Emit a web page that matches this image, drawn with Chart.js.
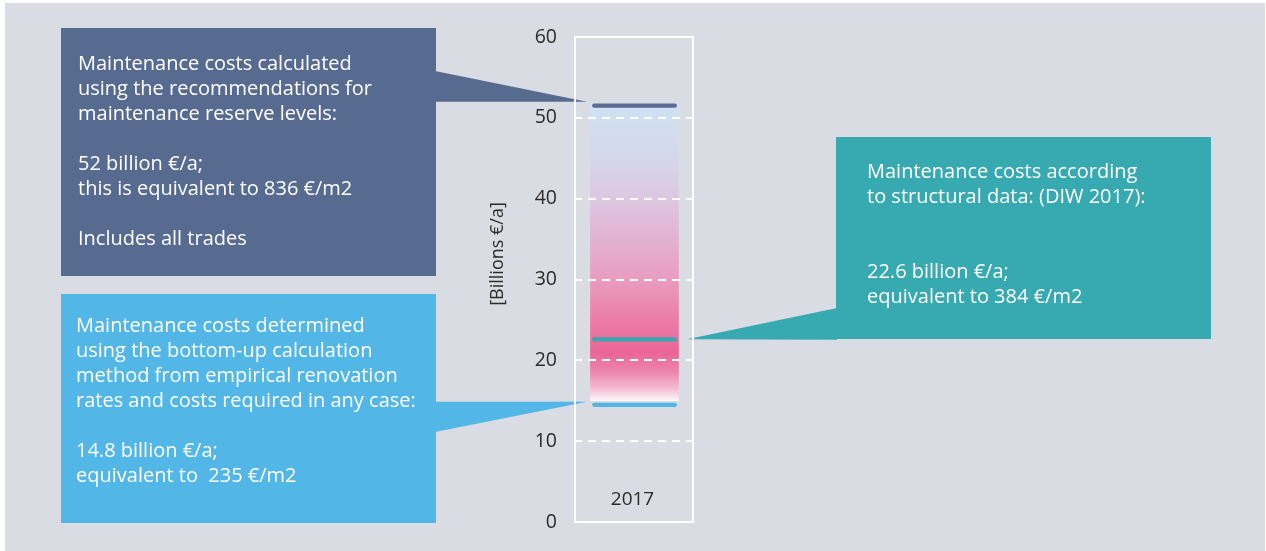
<!DOCTYPE html>
<html>
<head>
<meta charset="utf-8">
<script src="https://cdn.jsdelivr.net/npm/chart.js@4.4.1/dist/chart.umd.min.js"></script>
<style>
  html, body { margin: 0; padding: 0; background: #ffffff; }
  #wrap { width: 1266px; height: 551px; position: relative; }
  canvas { display: block; }
</style>
</head>
<body>
<div id="wrap"><canvas id="c" width="1266" height="551"></canvas></div>
<script>
// ---- data ----
const categories = ['2017'];
const rangeLow = [15.0];
const rangeHigh = [51.7];
const recommendationValue = [51.5];
const structuralValue = [22.6];
const bottomUpValue = [14.5];
const yTicks = [0, 10, 20, 30, 40, 50, 60];
const yAxisTitle = '[Billions €/a]';

const recommendationText = [
  'Maintenance costs calculated',
  'using the recommendations for',
  'maintenance reserve levels:',
  '',
  '52 billion €/a;',
  'this is equivalent to 836 €/m2',
  '',
  'Includes all trades'
];
const bottomUpText = [
  'Maintenance costs determined',
  'using the bottom-up calculation',
  'method from empirical renovation',
  'rates and costs required in any case:',
  '',
  '14.8 billion €/a;',
  'equivalent to  235 €/m2'
];
const structuralText = [
  'Maintenance costs according',
  'to structural data: (DIW 2017):',
  '',
  '',
  '22.6 billion €/a;',
  'equivalent to 384 €/m2'
];

// ---- styles ----
const FONT = "'Open Sans', 'DejaVu Sans', sans-serif";
const C_DARK = '#576b91';
const C_LIGHT = '#52b6e7';
const C_TEAL = '#37a9b0';
const MARK_HALF = 0.22;

function rangeGradient(context) {
  const chart = context.chart;
  const area = chart.chartArea;
  if (!area) return '#ec6a9a';
  const y = chart.scales.y;
  const top = y.getPixelForValue(rangeHigh[0]);
  const bot = y.getPixelForValue(rangeLow[0]);
  const g = chart.ctx.createLinearGradient(0, top, 0, bot);
  const stops = [
    [51.7, '#cde2f3'], [45, '#d6d7ea'], [40, '#dcc7e0'], [35, '#e3b2d2'],
    [30, '#e99cc0'], [25, '#ec7ca8'], [21, '#ea6597'], [18.5, '#ec86ae'],
    [16.5, '#f3bdd2'], [15, '#fdf6f9']
  ];
  stops.forEach(([v, c]) => {
    const p = (y.getPixelForValue(v) - top) / (bot - top);
    g.addColorStop(Math.min(1, Math.max(0, p)), c);
  });
  return g;
}

const decorPlugin = {
  id: 'decor',
  beforeDraw(chart) {
    const ctx = chart.ctx;
    ctx.save();
    ctx.fillStyle = '#ffffff';
    ctx.fillRect(0, 0, chart.width, chart.height);
    ctx.fillStyle = '#d9dce3';
    ctx.fillRect(5, 3, chart.width - 6, chart.height - 3);
    ctx.restore();
  },
  beforeDatasetsDraw(chart) {
    const ctx = chart.ctx;
    const y = chart.scales.y;
    const a = chart.chartArea;
    ctx.save();
    // callouts
    function box(x0, y0, x1, y1, color, lines, tx, ty0) {
      ctx.fillStyle = color;
      ctx.fillRect(x0, y0, x1 - x0, y1 - y0);
      ctx.fillStyle = '#ffffff';
      ctx.font = '20px ' + FONT;
      ctx.textBaseline = 'middle';
      ctx.textAlign = 'left';
      lines.forEach((t, i) => { if (t) ctx.fillText(t, tx, ty0 + i * 25); });
    }
    function tri(pts, color) {
      ctx.fillStyle = color;
      ctx.beginPath();
      ctx.moveTo(pts[0][0], pts[0][1]);
      for (let i = 1; i < pts.length; i++) ctx.lineTo(pts[i][0], pts[i][1]);
      ctx.closePath();
      ctx.fill();
    }
    const tipDark = y.getPixelForValue(recommendationValue[0]) - 4;
    const tipTeal = y.getPixelForValue(structuralValue[0]);
    const tipLight = y.getPixelForValue(bottomUpValue[0]) - 3;
    box(61, 28, 436, 276, C_DARK, recommendationText, 78, 64);
    tri([[435, 71], [587, tipDark], [435, tipDark]], C_DARK);
    box(61, 294, 436, 523, C_LIGHT, bottomUpText, 76, 326);
    tri([[435, tipLight], [587, tipLight], [435, 432]], C_LIGHT);
    box(836, 137, 1211, 339, C_TEAL, structuralText, 867, 172);
    tri([[837, 308], [687, tipTeal], [837, tipTeal + 0.5]], C_TEAL);

    // frame
    ctx.strokeStyle = '#ffffff';
    ctx.lineWidth = 2;
    ctx.strokeRect(a.left + 1, a.top, 693 - a.left - 2 + 1, a.bottom - a.top);

    // y title
    ctx.fillStyle = '#2b2b2b';
    ctx.font = '18px ' + FONT;
    ctx.textAlign = 'center';
    ctx.textBaseline = 'middle';
    ctx.translate(498, 254);
    ctx.rotate(-Math.PI / 2);
    ctx.fillText(yAxisTitle, 0, 0);
    ctx.restore();

    // category label
    ctx.save();
    const xs = chart.scales.x;
    ctx.fillStyle = '#2b2b2b';
    ctx.font = '19px ' + FONT;
    ctx.textAlign = 'center';
    ctx.textBaseline = 'middle';
    categories.forEach((c, i) => ctx.fillText(c, xs.getPixelForValue(i) - 2, 500));
    ctx.restore();
  }
};

const markerDs = (vals, color, label) => ({
  label,
  data: vals.map(v => [v - MARK_HALF, v + MARK_HALF]),
  backgroundColor: color,
  barThickness: 84,
  borderRadius: 2,
  borderSkipped: false,
  grouped: false,
  order: 1
});

new Chart(document.getElementById('c'), {
  type: 'bar',
  data: {
    labels: categories,
    datasets: [
      markerDs(recommendationValue, '#596c93', 'Recommendations'),
      markerDs(structuralValue, '#37a8ad', 'Structural data'),
      markerDs(bottomUpValue, '#52b5e6', 'Bottom-up'),
      {
        label: 'Range',
        data: categories.map((c, i) => [rangeLow[i], rangeHigh[i]]),
        backgroundColor: rangeGradient,
        barThickness: 88,
        grouped: false,
        order: 2
      }
    ]
  },
  options: {
    responsive: false,
    animation: false,
    devicePixelRatio: 1,
    layout: { padding: { left: 494, right: 1266 - 695, top: 37, bottom: 551 - 522 } },
    plugins: { legend: { display: false }, tooltip: { enabled: false } },
    scales: {
      x: { display: false, offset: true },
      y: {
        min: yTicks[0], max: yTicks[yTicks.length - 1],
        afterBuildTicks: s => { s.ticks = yTicks.map(v => ({ value: v })); },
        afterFit: s => { s.width = 80; },
        ticks: { padding: 17, color: '#2b2b2b', font: { family: FONT, size: 19.5 }, z: 1 },
        grid: {
          z: 1,
          color: c => (c.tick && (c.tick.value === yTicks[0] || c.tick.value === yTicks[yTicks.length - 1])) ? 'rgba(0,0,0,0)' : '#ffffff',
          lineWidth: 2,
          drawTicks: false
        },
        border: { display: false, dash: [8, 6], z: 1 }
      }
    }
  },
  plugins: [decorPlugin]
});
</script>
</body>
</html>
